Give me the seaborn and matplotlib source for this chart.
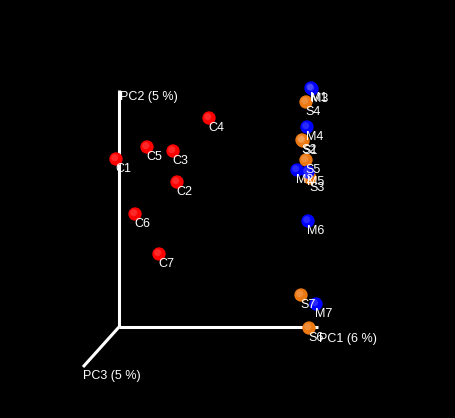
import matplotlib
matplotlib.use("Agg")
import matplotlib.pyplot as plt
import seaborn as sns
import pandas as pd

# Projected PCoA positions (screen units, origin at the axes corner)
C_LABELS = ["C1", "C2", "C3", "C4", "C5", "C6", "C7"]
C_X = [-3, 58, 54, 90, 28, 16, 40]
C_Y = [168, 145, 176, 209, 180, 113, 73]

M_LABELS = ["M1", "M2", "M3", "M4", "M5", "M6", "M7"]
M_X = [192, 178, 193, 188, 189, 189, 197]
M_Y = [239, 157, 238, 200, 155, 106, 23]

S_LABELS = ["S1", "S2", "S3", "S4", "S5", "S6", "S7"]
S_X = [184, 183, 191, 187, 187, 190, 182]
S_Y = [186, 187, 149, 225, 167, -1, 32]

AXIS_NAMES = ["PC1 (6 %)", "PC2 (5 %)", "PC3 (5 %)"]

df = pd.concat([
    pd.DataFrame({"label": S_LABELS, "x": S_X, "y": S_Y, "group": "S"}),
    pd.DataFrame({"label": M_LABELS, "x": M_X, "y": M_Y, "group": "M"}),
    pd.DataFrame({"label": C_LABELS, "x": C_X, "y": C_Y, "group": "C"}),
], ignore_index=True)

palette = {"C": "#ff0000", "M": "#0000ff", "S": "#ec7812"}

sns.set_style("dark")
plt.rcParams["font.family"] = ["Liberation Sans", "DejaVu Sans"]

fig = plt.figure(figsize=(4.55, 4.18), dpi=100)
fig.patch.set_facecolor("black")
ax = fig.add_axes([0, 0, 1, 1])
ax.set_facecolor("black")

# axes of the 3D frame
ax.plot([0, 199], [0, 0], color="white", lw=2.2, solid_capstyle="butt", zorder=1)
ax.plot([0, 0], [0, 237], color="white", lw=2.2, solid_capstyle="butt", zorder=1)
ax.plot([0, -36], [0, -40], color="white", lw=2.2, solid_capstyle="butt", zorder=1)
ax.text(200, -12, AXIS_NAMES[0], color="white", fontsize=9, ha="left", va="center")
ax.text(1, 236, AXIS_NAMES[1], color="white", fontsize=9, ha="left", va="top")
ax.text(-36, -43, AXIS_NAMES[2], color="white", fontsize=9, ha="left", va="top")

sns.scatterplot(data=df, x="x", y="y", hue="group", palette=palette,
                s=92, edgecolor="none", legend=False, ax=ax, zorder=2)
# soft highlight to mimic shaded spheres
ax.scatter(df["x"] - 1.3, df["y"] + 1.3, s=26, color="white", alpha=0.16,
           edgecolor="none", zorder=3)

for _, row in df.iterrows():
    ax.text(row["x"] - 1, row["y"] - 4, row["label"], color="white",
            fontsize=9, ha="left", va="top", zorder=4)

ax.set_xlim(-119, 336)
ax.set_ylim(-91, 327)
ax.set_axis_off()

fig.savefig("out.png", dpi=100, facecolor="black")
